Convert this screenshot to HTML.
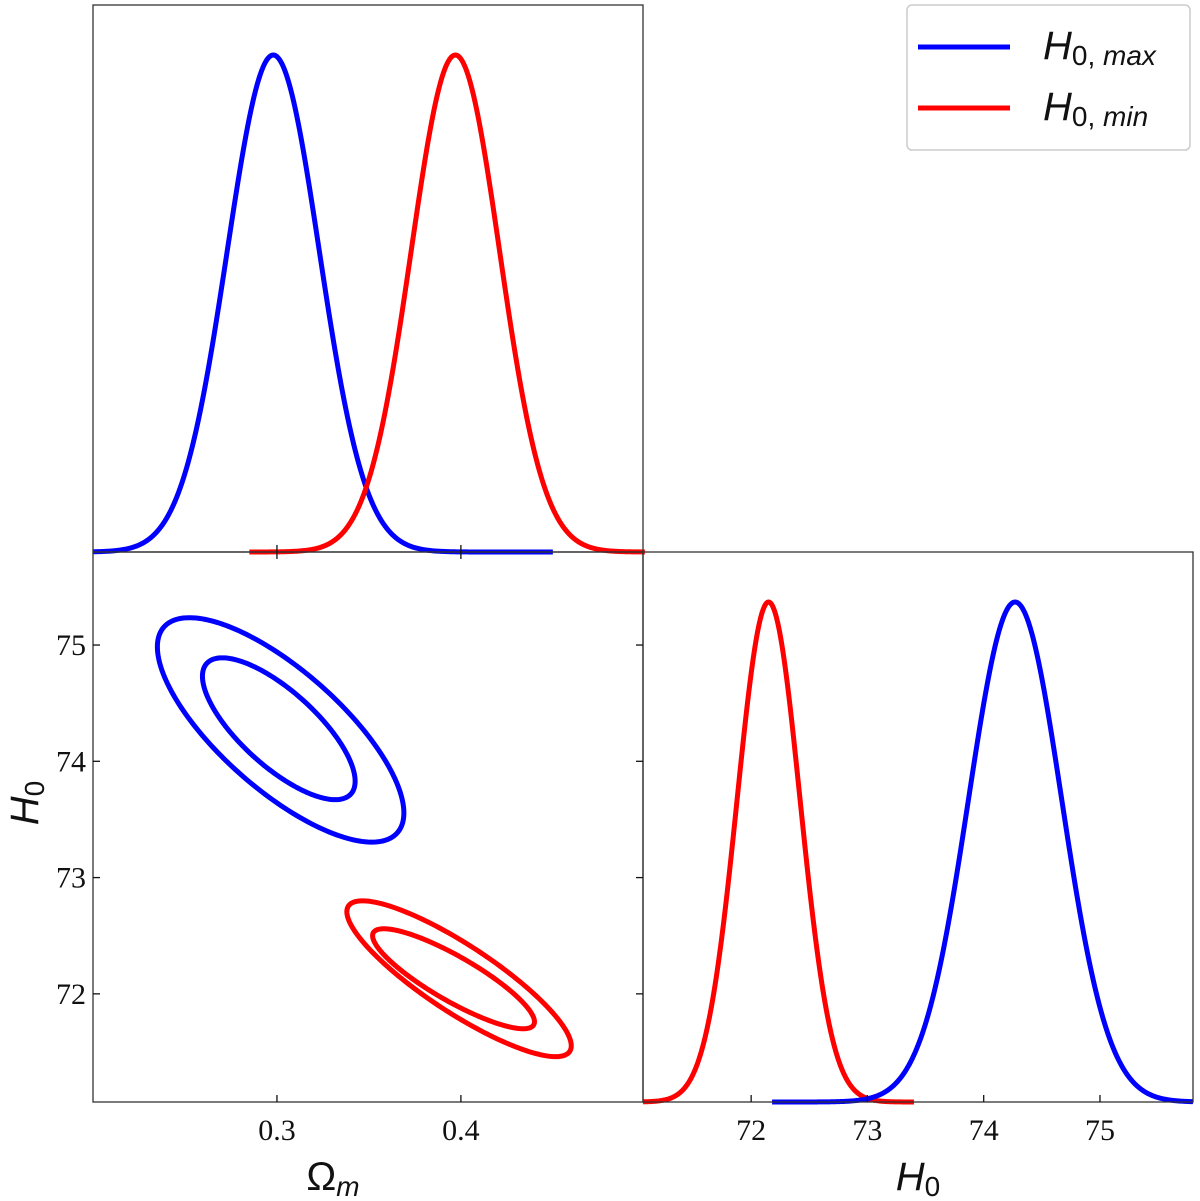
<!DOCTYPE html>
<html><head><meta charset="utf-8"><style>
html,body{margin:0;padding:0;background:#fff;}
svg{display:block;}
.tk{font-family:"Liberation Serif",serif;font-size:30px;fill:#111;}
.lab{font-family:"Liberation Sans",sans-serif;font-size:40px;fill:#111;}
</style></head><body>
<svg id="c" width="1200" height="1201" viewBox="0 0 1200 1201" xmlns="http://www.w3.org/2000/svg"></svg>
<script>
const omTicks=[0.3,0.4];
const h0Ticks=[72,73,74,75];
// marginals: [mean, sigma, drawMin, drawMax]
const omBlue=[0.298,0.025,0.2,0.45];
const omRed=[0.397,0.024,0.285,0.5];
const h0Blue=[74.27,0.40,72.18,75.8];
const h0Red=[72.15,0.27,71.07,73.4];
// contours: [cx, cy, halfX, halfY, rho]
const blueOuter=[0.302,74.27,0.067,0.965,-0.74];
const blueInner=[0.301,74.28,0.0415,0.61,-0.74];
const redOuter=[0.399,72.13,0.061,0.67,-0.86];
const redInner=[0.396,72.13,0.044,0.43,-0.86];

const svg=document.getElementById('c');
const NS='http://www.w3.org/2000/svg';
function mk(t,a,p){const e=document.createElementNS(NS,t);for(const k in a)e.setAttribute(k,a[k]);(p||svg).appendChild(e);return e;}
const P1={x0:93,x1:643,y0:5,y1:552},P2={x0:93,x1:643,y0:552,y1:1102},P3={x0:643,x1:1193,y0:552,y1:1102};
const omMin=0.2,omMax=0.499,hMin=71.07,hMax=75.8;
const sxOm=(v,p)=>p.x0+(v-omMin)/(omMax-omMin)*(p.x1-p.x0);
const sxH=(v,p)=>p.x0+(v-hMin)/(hMax-hMin)*(p.x1-p.x0);
const syH=v=>P2.y1-(v-hMin)/(hMax-hMin)*(P2.y1-P2.y0);

function gauss(arr,sx,p,color,name){
  const [m,s,a,b]=arr;let d='';
  for(let i=0;i<=300;i++){const v=a+(b-a)*i/300;const g=Math.exp(-0.5*((v-m)/s)**2);
    const x=sx(v,p),y=p.y1-g*(p.y1-p.y0-50);d+=(i?'L':'M')+x.toFixed(2)+' '+y.toFixed(2);}
  const e=mk('path',{d:d,fill:'none',stroke:color,'stroke-width':5,'stroke-linejoin':'round'});
  
  
}
function ell(arr,color,name){
  const [cx,cy,hx,hy,r]=arr;let d='';
  for(let i=0;i<=200;i++){const t=2*Math.PI*i/200;const u=Math.cos(t),w=r*Math.cos(t)+Math.sqrt(1-r*r)*Math.sin(t);
    d+=(i?'L':'M')+sxOm(cx+hx*u,P2).toFixed(2)+' '+syH(cy+hy*w).toFixed(2);}
  const e=mk('path',{d:d+'Z',fill:'none',stroke:color,'stroke-width':5});
  
  
}
gauss(omBlue,sxOm,P1,'#0000ff','omega-marginal-h0max');
gauss(omRed,sxOm,P1,'#ff0000','omega-marginal-h0min');
ell(blueOuter,'#0000ff','contour-h0max-outer');
ell(blueInner,'#0000ff','contour-h0max-inner');
ell(redOuter,'#ff0000','contour-h0min-outer');
ell(redInner,'#ff0000','contour-h0min-inner');
gauss(h0Red,sxH,P3,'#ff0000','h0-marginal-h0min');
gauss(h0Blue,sxH,P3,'#0000ff','h0-marginal-h0max');

[[P1,'panel-omega-marginal'],[P2,'panel-contours'],[P3,'panel-h0-marginal']].forEach(([p,n])=>{
  const r=mk('rect',{x:p.x0,y:p.y0,width:p.x1-p.x0,height:p.y1-p.y0,fill:'none',stroke:'#333','stroke-width':1.3});
  
  
});
const tl=7;
omTicks.forEach(v=>{const x=sxOm(v,P2);
  mk('line',{x1:x,y1:P1.y1,x2:x,y2:P1.y1-tl,stroke:'#111','stroke-width':1.3});
  mk('line',{x1:x,y1:P2.y0,x2:x,y2:P2.y0+tl,stroke:'#111','stroke-width':1.3});
  mk('line',{x1:x,y1:P2.y1,x2:x,y2:P2.y1-tl,stroke:'#111','stroke-width':1.3});
  const t=mk('text',{x:x,y:1140,'text-anchor':'middle',class:'tk'});t.textContent=v.toFixed(1);
  
  
});
h0Ticks.forEach(v=>{const y=syH(v);
  mk('line',{x1:P2.x0,y1:y,x2:P2.x0+tl,y2:y,stroke:'#111','stroke-width':1.3});
  mk('line',{x1:P2.x1,y1:y,x2:P2.x1-tl,y2:y,stroke:'#111','stroke-width':1.3});
  const t=mk('text',{x:86,y:y+10,'text-anchor':'end',class:'tk'});t.textContent=v;
  
  
  const x=sxH(v,P3);
  mk('line',{x1:x,y1:P3.y1,x2:x,y2:P3.y1-tl,stroke:'#111','stroke-width':1.3});
  const t2=mk('text',{x:x,y:1140,'text-anchor':'middle',class:'tk'});t2.textContent=v;
  
  
});
</script>
<script>
(function(){
const svg=document.getElementById('c');const NS='http://www.w3.org/2000/svg';
function mk(t,a){const e=document.createElementNS(NS,t);for(const k in a)e.setAttribute(k,a[k]);svg.appendChild(e);return e;}
let t=mk('text',{x:333,y:1190,class:'lab','text-anchor':'middle'});
t.innerHTML='Ω<tspan font-style="italic" font-size="28" dy="6">m</tspan>';


t=mk('text',{x:918,y:1190,class:'lab','text-anchor':'middle'});
t.innerHTML='<tspan font-style="italic">H</tspan><tspan font-size="28" dy="6">0</tspan>';


t=mk('text',{x:0,y:0,class:'lab','text-anchor':'middle',transform:'translate(38,803) rotate(-90)'});
t.innerHTML='<tspan font-style="italic">H</tspan><tspan font-size="28" dy="6">0</tspan>';


let r=mk('rect',{x:907,y:5,width:283,height:145,rx:5,fill:'#fff',stroke:'#ccc','stroke-width':1.5});


[['#0000ff','max',47,'legend-entry-h0max'],['#ff0000','min',108,'legend-entry-h0min']].forEach(([c,s,y,n])=>{
  const l=mk('line',{x1:918,y1:y,x2:1010,y2:y,stroke:c,'stroke-width':5});
  
  
  const tx=mk('text',{x:1043,y:y+12,class:'lab','font-size':'38'});
  tx.innerHTML='<tspan font-style="italic">H</tspan><tspan font-size="28" dy="6">0, </tspan><tspan font-size="28" font-style="italic">'+s+'</tspan>';
  
  
});
})();
</script>
</body></html>
